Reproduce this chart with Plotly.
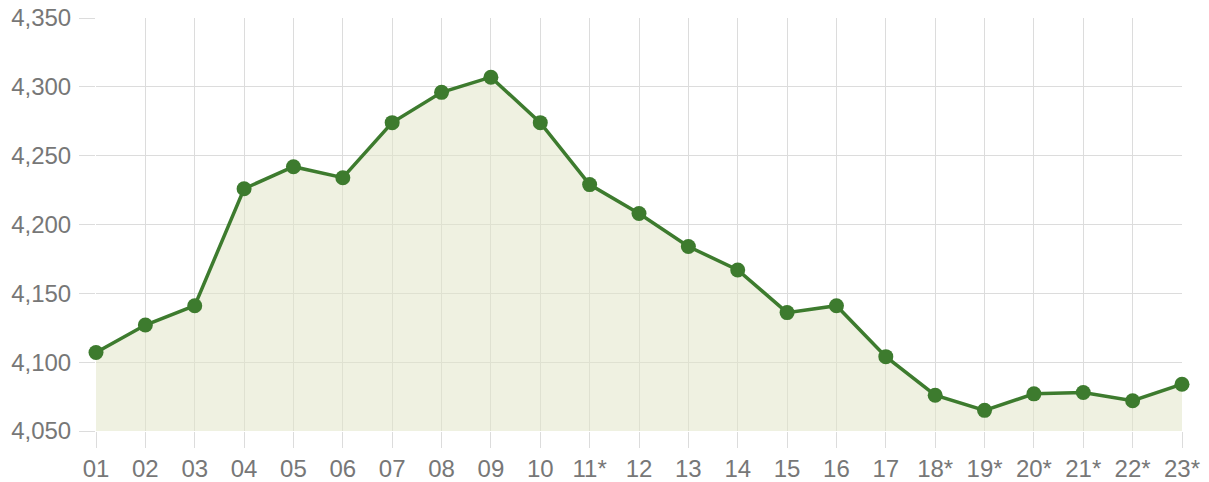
import plotly.graph_objects as go

categories = ["01", "02", "03", "04", "05", "06", "07", "08", "09", "10", "11*", "12",
              "13", "14", "15", "16", "17", "18*", "19*", "20*", "21*", "22*", "23*"]
values = [4107, 4127, 4141, 4226, 4242, 4234, 4274, 4296, 4307, 4274, 4229, 4208,
          4184, 4167, 4136, 4141, 4104, 4076, 4065, 4077, 4078, 4072, 4084]
y_ticks = [4050, 4100, 4150, 4200, 4250, 4300, 4350]

fig = go.Figure()
fig.add_trace(go.Scatter(
    x=categories, y=values, mode="lines+markers",
    line=dict(color="#3d7b2e", width=3.5),
    marker=dict(color="#3d7b2e", size=15),
    fill="tozeroy", fillcolor="rgba(225,230,200,0.55)",
    cliponaxis=False, showlegend=False,
))

grid = "#dcdcdc"
fig.update_layout(
    width=1209, height=482,
    margin=dict(l=96, r=27, t=18, b=51),
    paper_bgcolor="white", plot_bgcolor="white",
    font=dict(family="Liberation Sans, Arial, sans-serif", size=24, color="#777777"),
    xaxis=dict(
        type="category", range=[0, len(categories) - 1],
        showgrid=True, gridcolor=grid, gridwidth=1,
        ticks="outside", ticklen=16, tickcolor=grid, tickwidth=1,
        showline=False, zeroline=False, automargin=False,
    ),
    yaxis=dict(
        range=[4050, 4350], tickvals=y_ticks, tickformat=",d",
        showgrid=True, gridcolor=grid, gridwidth=1,
        ticks="outside", ticklen=16, tickcolor=grid, tickwidth=1,
        showline=False, zeroline=False, automargin=False, ticklabelstandoff=3,
    ),
)
fig.write_html("out.html", config={"displayModeBar": False},
               post_script="document.body.style.margin='0';document.body.style.overflow='hidden';")
